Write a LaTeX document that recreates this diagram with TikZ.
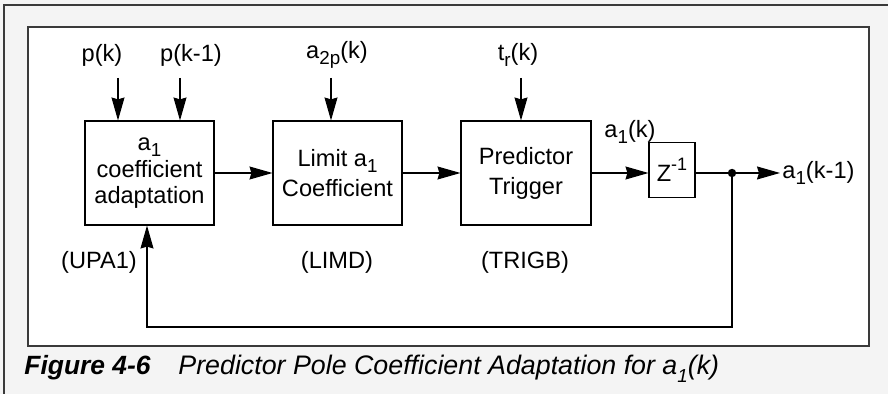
\documentclass[tikz,border=0pt]{standalone}
\usepackage{fontspec}
\setmainfont{Liberation Sans}
\usetikzlibrary{arrows.meta}
\newcommand{\lowr}[1]{\raisebox{-0.5ex}{\fontsize{9.4}{10}\selectfont #1}}
\newcommand{\upr}[1]{\raisebox{0.85ex}{\fontsize{9}{10}\selectfont #1}}
\definecolor{pagegray}{HTML}{F4F4F4}
\definecolor{framegray}{HTML}{3A3A3A}
\tikzset{
  lbl/.style={font=\fontsize{11.8}{14}\selectfont, inner sep=0pt},
  blk/.style={draw=black, line width=0.55pt, fill=white, align=center, inner sep=0pt,
    minimum width=64.5pt, minimum height=52pt},
  arr/.style={line width=0.55pt, -{Stealth[length=11.5pt,width=6.5pt,inset=1pt]}},
  ln/.style={line width=0.55pt},
}
\begin{document}
\begin{tikzpicture}[x=0.5pt,y=-0.5pt]
\useasboundingbox (0,0) rectangle (888,394);
\fill[pagegray] (0,0) rectangle (888,394);
\draw[framegray, line width=0.8pt] (4,394) -- (4,5) -- (888,5);
\draw[framegray, line width=0.7pt, fill=white] (28,27) rectangle (869,346);

% blocks
\node[blk, font=\fontsize{11.8}{13}\selectfont] (b1) at (149.5,173) {a\lowr{1}\\[0.6pt]coefficient\\adaptation};
\node[blk, font=\fontsize{11.8}{15}\selectfont] (b2) at (337.5,173) {Limit a\lowr{1}\\Coefficient};
\node[blk, minimum width=65pt, font=\fontsize{11.8}{15}\selectfont] (b3) at (526,173) {Predictor\\Trigger};
\node[blk, minimum width=23pt, minimum height=27.5pt, font=\fontsize{11.8}{14}\selectfont] (z) at (672,170) {Z\upr{-1}};
\fill (732,173) circle (2.1pt);
\coordinate (dot) at (732,173);
\coordinate (out) at (780,173);
\coordinate (fb) at (147,327);

% input labels
\node[lbl] (lpk) at (102,55) {p(k)};
\node[lbl] (lpk1) at (191,55) {p(k-1)};
\node[lbl] (la2p) at (337,55) {a\lowr{2p}(k)};
\node[lbl] (ltr) at (518,55) {t\lowr{r}(k)};
\coordinate (tpk) at (118,78);
\coordinate (tpk1) at (180,78);
\coordinate (ta2p) at (331,78);
\coordinate (ttr) at (521,78);

% other labels
\node[lbl] (la1k) at (630,132) {a\lowr{1}(k)};
\node[lbl, anchor=west] (la1k1) at (782,173) {a\lowr{1}(k-1)};
\node[lbl] (upa) at (99,262) {(UPA1)};
\node[lbl] (limd) at (337,262) {(LIMD)};
\node[lbl] (trigb) at (525,262) {(TRIGB)};

% connectors
\draw[arr] (tpk) -- (tpk |- b1.north);
\draw[arr] (tpk1) -- (tpk1 |- b1.north);
\draw[arr] (ta2p) -- (ta2p |- b2.north);
\draw[arr] (ttr) -- (ttr |- b3.north);
\draw[arr] (b1.east) -- (b2.west);
\draw[arr] (b2.east) -- (b3.west);
\draw[arr] (b3.east) -- (z.west |- b3.east);
\draw[ln] (z.east |- dot) -- (dot);
\draw[arr] (dot) -- (out);
\draw[arr] (dot) |- (fb) -- (fb |- b1.south);

% caption
\node[anchor=base west, inner sep=0pt, font=\fontsize{13.2}{15}\selectfont\bfseries\itshape] (fig) at (24,375) {Figure 4-6};
\node[anchor=base west, inner sep=0pt, font=\fontsize{13.4}{15}\selectfont\itshape] (cap) at (178,375) {Predictor Pole Coefficient Adaptation for a\lowr{1}(k)};
\end{tikzpicture}
\end{document}
